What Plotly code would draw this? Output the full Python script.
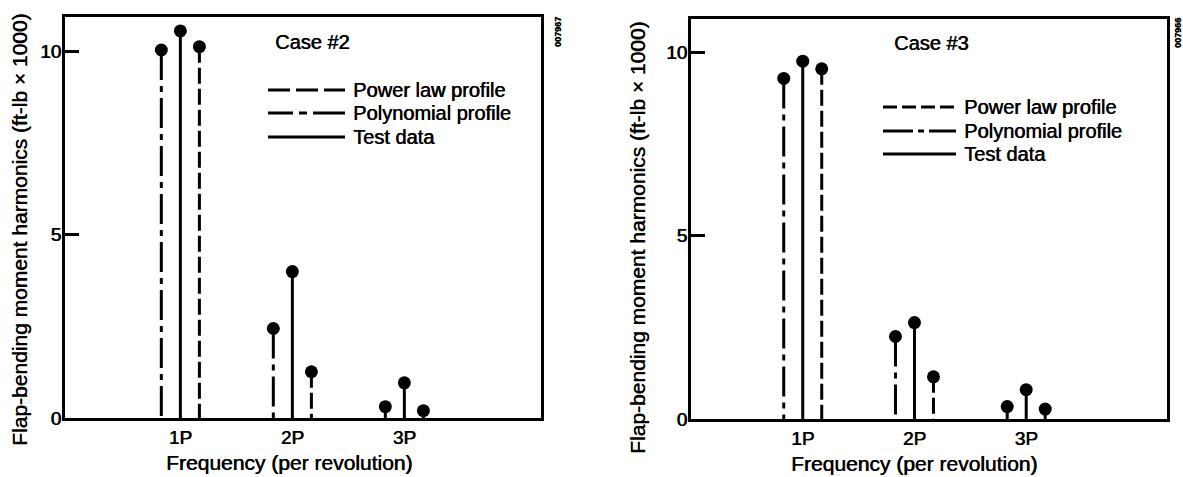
import plotly.graph_objects as go

# ---------------- data ----------------
harmonics = [1, 2, 3]
harmonic_labels = ["1P", "2P", "3P"]

case2_polynomial = [10.03, 2.44, 0.31]
case2_test = [10.55, 3.99, 0.96]
case2_power = [10.12, 1.26, 0.20]

case3_polynomial = [9.29, 2.25, 0.34]
case3_test = [9.76, 2.63, 0.80]
case3_power = [9.55, 1.15, 0.27]

ytick_vals = [0, 5, 10]
ytick_text = ["0", "5", "10"]

# ---------------- style ----------------
W, H = 1183, 477
FONT = "Liberation Sans"
BLACK = "#000000"
SHADOW = "0.6px 0px 0px #000"
OFFSET = 0.17
STEM_W = 3
POLY_DASH = "30px,6px,6px,6px"
POWER_DASH = "16px,5px"

fig = go.Figure()


def font(size):
    return dict(family=FONT, size=size, color=BLACK, shadow=SHADOW)


def add_stems(xs, ys, dash, xa, ya):
    sx, sy = [], []
    for x, y in zip(xs, ys):
        sx += [x, x, None]
        sy += [y, 0, None]
    fig.add_trace(go.Scatter(x=sx, y=sy, mode="lines", xaxis=xa, yaxis=ya,
                             line=dict(color=BLACK, width=STEM_W, dash=dash),
                             showlegend=False, hoverinfo="skip"))
    fig.add_trace(go.Scatter(x=xs, y=ys, mode="markers", xaxis=xa, yaxis=ya,
                             marker=dict(color=BLACK, size=13, line=dict(width=0)),
                             showlegend=False))


panels = [
    dict(xa="x", ya="y", poly=case2_polynomial, test=case2_test, power=case2_power),
    dict(xa="x2", ya="y2", poly=case3_polynomial, test=case3_test, power=case3_power),
]
for p in panels:
    add_stems([h - OFFSET for h in harmonics], p["poly"], POLY_DASH, p["xa"], p["ya"])
    add_stems(list(harmonics), p["test"], "solid", p["xa"], p["ya"])
    add_stems([h + OFFSET for h in harmonics], p["power"], POWER_DASH, p["xa"], p["ya"])


def px_x(v):
    return v / W


def px_y(v):
    return 1 - v / H


axis_common = dict(showline=True, mirror=True, linecolor=BLACK, linewidth=3,
                   showgrid=False, zeroline=False, automargin=False)
xcommon = dict(axis_common, tickvals=harmonics, ticktext=harmonic_labels, ticks="",
               tickfont=font(19), ticklabelstandoff=0)
ycommon = dict(axis_common, tickvals=ytick_vals, ticktext=ytick_text, ticks="inside",
               ticklen=14, tickwidth=3, tickcolor=BLACK,
               tickfont=font(19), ticklabelstandoff=-3)

fig.update_layout(
    width=W, height=H,
    margin=dict(l=0, r=0, t=0, b=0, autoexpand=False),
    paper_bgcolor="white", plot_bgcolor="white",
    showlegend=False,
    xaxis=dict(xcommon, domain=[px_x(65), px_x(541)], range=[-0.03, 4.22], anchor="y"),
    yaxis=dict(ycommon, domain=[px_y(418), px_y(17)], range=[0, 10.93], anchor="x"),
    xaxis2=dict(xcommon, domain=[px_x(691), px_x(1167)], range=[0, 4.26], anchor="y2"),
    yaxis2=dict(ycommon, domain=[px_y(419), px_y(19)], range=[0, 10.91], anchor="x2"),
)

annotations = []
shapes = []


def text(x, y, s, size=20, angle=0, xanchor="center", yanchor="middle"):
    annotations.append(dict(x=px_x(x), y=px_y(y), xref="paper", yref="paper", text=s,
                            showarrow=False, textangle=angle, xanchor=xanchor,
                            yanchor=yanchor, font=font(size)))


# axis titles
text(289, 462, "Frequency (per revolution)", size=21)
text(914, 463, "Frequency (per revolution)", size=21)
text(20, 230, "Flap-bending moment harmonics (ft-lb × 1000)", size=21, angle=-90)
text(637, 238, "Flap-bending moment harmonics (ft-lb × 1000)", size=21, angle=-90)

# case labels
text(273, 42, "Case #2", xanchor="left")
text(892, 43, "Case #3", xanchor="left")

# id codes
text(558, 32, "<b>007967</b>", size=9, angle=-90)
text(1178, 33, "<b>007966</b>", size=9, angle=-90)

# legends
legend_items = [
    ("Power law profile", "22px,6px"),
    ("Polynomial profile", "25px,6px,8px,6px,40px"),
    ("Test data", "solid"),
]
right_dashes = ["14px,5px", "30px,5px,6px,5px,40px", "solid"]
left_rows = [90, 113, 137]
right_rows = [107, 131, 154]
for i, (label, dash) in enumerate(legend_items):
    y = left_rows[i]
    shapes.append(dict(type="line", xref="paper", yref="paper",
                       x0=px_x(268), x1=px_x(345), y0=px_y(y), y1=px_y(y),
                       line=dict(color=BLACK, width=3, dash=dash)))
    text(351, y, label, xanchor="left")
    y2 = right_rows[i]
    shapes.append(dict(type="line", xref="paper", yref="paper",
                       x0=px_x(883), x1=px_x(956), y0=px_y(y2), y1=px_y(y2),
                       line=dict(color=BLACK, width=3, dash=right_dashes[i])))
    text(962, y2, label, xanchor="left")

fig.update_layout(annotations=annotations, shapes=shapes)
fig.write_html("out.html")
